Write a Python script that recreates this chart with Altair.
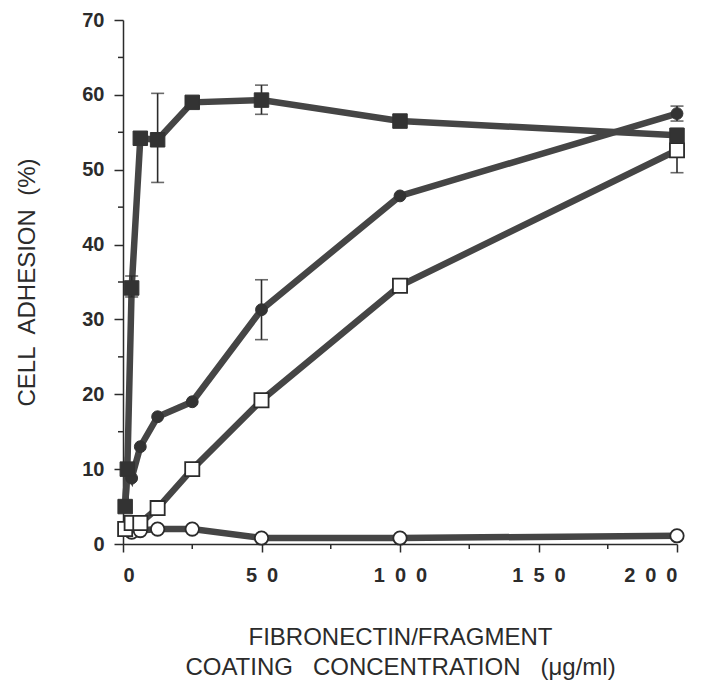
import altair as alt
import pandas as pd

# ---- data ----
fsq_x = [0.78, 1.56, 3.125, 6.25, 12.5, 25, 50, 100, 200]
fsq_y = [5.0, 10.0, 34.2, 54.2, 54.0, 59.0, 59.3, 56.5, 54.6]

fci_x = [0.78, 1.56, 3.125, 6.25, 12.5, 25, 50, 100, 200]
fci_y = [5.0, 10.0, 8.8, 13.0, 17.0, 19.0, 31.3, 46.5, 57.5]

osq_x = [0.78, 3.125, 6.25, 12.5, 25, 50, 100, 200]
osq_y = [2.0, 2.8, 2.8, 4.8, 10.0, 19.2, 34.5, 52.6]

oci_x = [3.125, 6.25, 12.5, 25, 50, 100, 200]
oci_y = [1.6, 1.8, 2.0, 2.0, 0.8, 0.8, 1.1]

err_x = [3.125, 12.5, 50, 100, 50, 200, 200]
err_lo = [33.0, 48.3, 57.4, 55.7, 27.3, 56.5, 49.6]
err_hi = [35.8, 60.2, 61.3, 57.3, 35.3, 58.5, 55.5]

x_major = [0, 50, 100, 150, 200]
x_minor = [25, 75, 125, 175]
y_major = [0, 10, 20, 30, 40, 50, 60, 70]
y_minor = [5, 15, 25, 35, 45, 55, 65]

W, H = 554, 524
FONT = "Liberation Sans"
INK = "#2b2b2b"
LINE = "#454545"
GAP = "\u00a0\u00a0 "

def series(xs, ys, name):
    return pd.DataFrame({"x": xs, "y": ys, "s": name})

df_fsq = series(fsq_x, fsq_y, "fsq")
df_fci = series(fci_x, fci_y, "fci")
df_osq = series(osq_x, osq_y, "osq")
df_oci = series(oci_x, oci_y, "oci")
df_err = pd.DataFrame({"x": err_x, "lo": err_lo, "hi": err_hi})

xs = alt.Scale(domain=[0, 200], nice=False, zero=False)
ys = alt.Scale(domain=[0, 70], nice=False)

X = alt.X("x:Q", scale=xs, axis=alt.Axis(
    values=x_major, tickSize=8, tickWidth=1.5, domainWidth=1.5,
    labelExpr="join(split(datum.label, ''), '\u2002')",
    labelPadding=13, labelFontSize=20, labelFontWeight="bold",
    title=["FIBRONECTIN/FRAGMENT", "COATING" + GAP + "CONCENTRATION" + GAP + "(\u03bcg/ml)"],
    titleY=81, titleBaseline="top", titleLineHeight=30,
    titleFontSize=24, titleFontWeight="normal"))
Y = alt.Y("y:Q", scale=ys, axis=alt.Axis(
    values=y_major, tickSize=9, tickWidth=1.5, domainWidth=1.5,
    labelPadding=10, labelFontSize=20, labelFontWeight="bold",
    title="CELL\u00a0 ADHESION\u00a0 (%)", titleX=-84,
    titleFontSize=24, titleFontWeight="normal"))

def line(df):
    return alt.Chart(df).mark_line(color=LINE, strokeWidth=6.5, clip=False).encode(x=X, y=Y)

lines = [line(d) for d in (df_oci, df_osq, df_fci, df_fsq)]

err_rule = alt.Chart(df_err).mark_rule(color=INK, strokeWidth=1.6).encode(
    x=alt.X("x:Q", scale=xs), y=alt.Y("lo:Q", scale=ys), y2="hi:Q")
cap_lo = alt.Chart(df_err).mark_tick(color=INK, thickness=1.6, size=13, orient="horizontal").encode(
    x=alt.X("x:Q", scale=xs), y=alt.Y("lo:Q", scale=ys))
cap_hi = alt.Chart(df_err).mark_tick(color=INK, thickness=1.6, size=13, orient="horizontal").encode(
    x=alt.X("x:Q", scale=xs), y=alt.Y("hi:Q", scale=ys))

pts_oci = alt.Chart(df_oci).mark_point(shape="circle", filled=True, fill="white",
    stroke=INK, strokeWidth=1.8, size=180, opacity=1).encode(x=X, y=Y)
pts_osq = alt.Chart(df_osq).mark_point(shape="square", filled=True, fill="white",
    stroke=INK, strokeWidth=1.8, size=200, opacity=1).encode(x=X, y=Y)
pts_fci = alt.Chart(df_fci).mark_point(shape="circle", filled=True, fill="#333333",
    stroke="#333333", strokeWidth=1, size=140, opacity=1).encode(x=X, y=Y)
pts_fsq = alt.Chart(df_fsq).mark_point(shape="square", filled=True, fill="#333333",
    stroke="#333333", strokeWidth=1, size=210, opacity=1).encode(x=X, y=Y)

minor_y = alt.Chart(pd.DataFrame({"v": y_minor})).mark_rule(color=INK, strokeWidth=1.5).encode(
    y=alt.Y("v:Q", scale=ys), x=alt.value(-5), x2=alt.value(0))
minor_x = alt.Chart(pd.DataFrame({"v": x_minor})).mark_rule(color=INK, strokeWidth=1.5).encode(
    x=alt.X("v:Q", scale=xs), y=alt.value(H), y2=alt.value(H + 5))

chart = alt.layer(
    minor_y, minor_x, *lines, err_rule, cap_lo, cap_hi,
    pts_oci, pts_osq, pts_fci, pts_fsq
).properties(
    width=W, height=H,
    autosize=alt.AutoSizeParams(type="none"),
    padding={"left": 123, "top": 20, "right": 24, "bottom": 138},
    background="white",
).configure_view(stroke=None).configure_axis(
    grid=False, domainColor=INK, tickColor=INK, labelColor=INK, titleColor=INK,
    labelFont=FONT, titleFont=FONT,
)

chart.save("out.html", embed_options={"renderer": "svg", "actions": False})
